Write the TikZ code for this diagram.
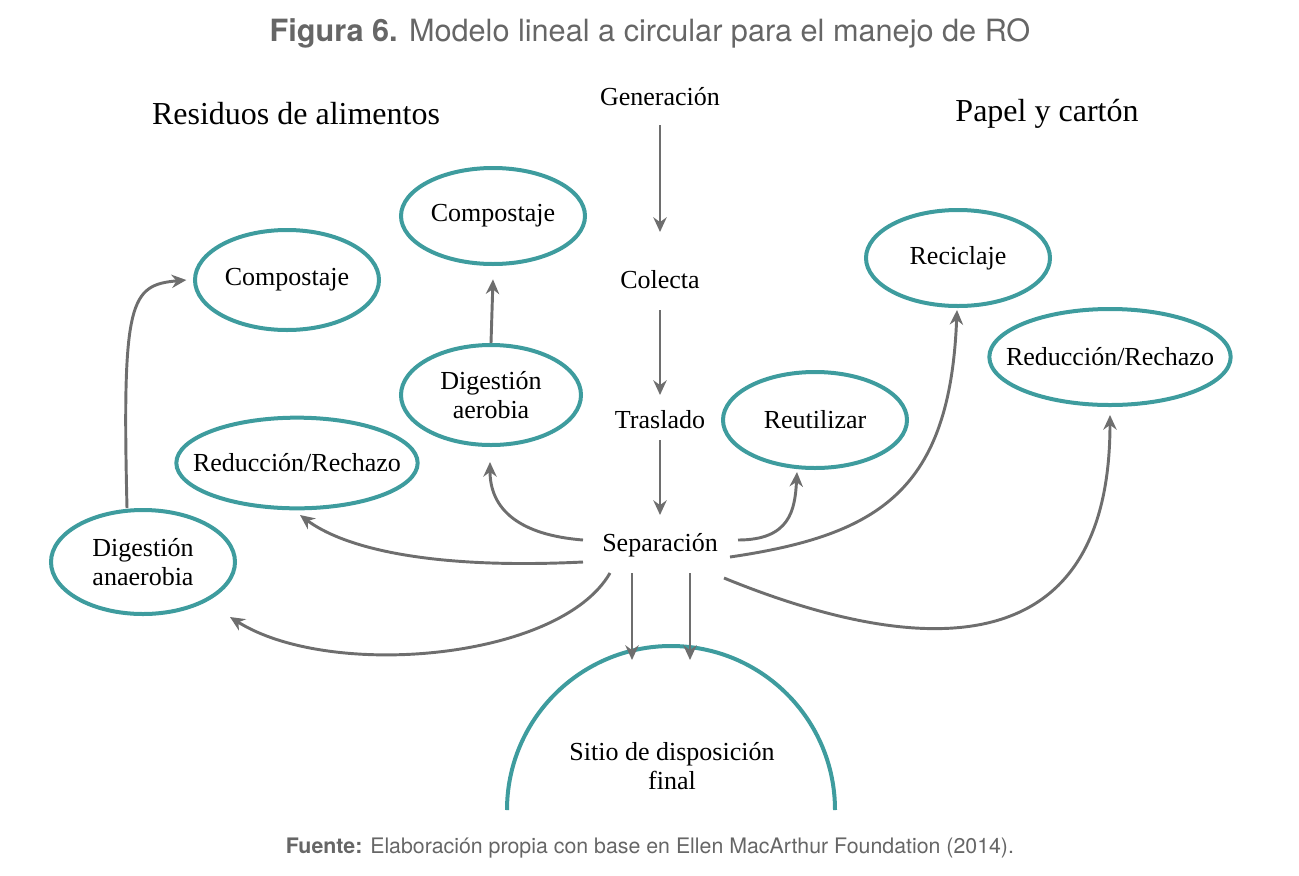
\documentclass[tikz,border=0pt]{standalone}
\usepackage{fontspec}
\setmainfont{Liberation Serif}
\newfontfamily\hsans{TeX Gyre Heros}
\usetikzlibrary{shapes.geometric,arrows.meta}
\definecolor{teal1}{HTML}{3E9C9E}
\definecolor{arr}{HTML}{6E6E6E}
\definecolor{ttl}{HTML}{666666}
\begin{document}
\begin{tikzpicture}[x=0.75pt,y=-0.75pt,
  el/.style={draw=teal1,line width=3pt,ellipse,minimum width=#1,align=center,font=\fontsize{19.5}{22}\selectfont,inner sep=0pt},
  el/.default=184pt,
  lab/.style={font=\fontsize{19.5}{22}\selectfont,inner sep=2pt},
  ar/.style={draw=arr,line width=2.2pt,-{Stealth[length=11pt,width=10pt]}}]
\useasboundingbox (0,0) rectangle (1299,875);
\node[font=\hsans\fontsize{23}{27}\selectfont,text=ttl] (title) at (650,33) {\textbf{Figura 6.} Modelo lineal a circular para el manejo de RO};
\node[font=\fontsize{24}{28}\selectfont] (hl) at (296,114) {Residuos de alimentos};
\node[font=\fontsize{24}{28}\selectfont] (hr) at (1047,114) {Papel y cartón};
\node[lab] (gen) at (660,97) {Generación};
\node[lab] (col) at (660,280) {Colecta};
\node[lab] (tra) at (660,420) {Traslado};
\node[lab] (sep) at (660,545) {Separación};
\node[el=138pt,minimum height=72pt] (c1) at (493,216) {Compostaje};
\node[el=138pt,minimum height=75pt] (c2) at (287,280) {Compostaje};
\node[el=135pt,minimum height=75pt] (da) at (491,395) {Digestión\\aerobia};
\node[el=181pt,minimum height=68pt,inner sep=-14pt] (rl) at (297,463) {Reducción/Rechazo};
\node[el=138pt,minimum height=78pt] (dn) at (143,562) {Digestión\\anaerobia};
\node[el=138pt,minimum height=72pt] (ru) at (815,420) {Reutilizar};
\node[el=138pt,minimum height=72pt] (rc) at (958,258) {Reciclaje};
\node[el=181pt,minimum height=72pt,inner sep=-14pt] (rr) at (1110,357) {Reducción/Rechazo};
\draw[teal1,line width=3pt] (507,810) arc[start angle=180,end angle=360,radius=164];
\node[lab,align=center] (sitio) at (672,766) {Sitio de disposición\\final};
\coordinate (s1) at (632,660); \coordinate (s2) at (690,660);
\coordinate (g0) at (660,125); \coordinate (g1) at (660,232);
\coordinate (k0) at (660,310); \coordinate (k1) at (660,395);
\coordinate (t0) at (660,440); \coordinate (t1) at (660,515);
\draw[ar] (g0) -- (g1);
\draw[ar] (k0) -- (k1);
\draw[ar] (t0) -- (t1);
\draw[ar] (632,573) -- (s1);
\draw[ar] (690,573) -- (s2);
\draw[ar] (da.north) -- ([yshift=-10pt]c1.south);
\draw[ar] (dn.north -| 127,0) .. controls (122,300) and (130,285) .. ([xshift=-5pt]c2.west);
\draw[ar] (583,540) .. controls (520,535) and (490,510) .. (490,462);
\draw[ar] (583,562) .. controls (420,570) and (340,545) .. (300,515);
\draw[ar] (610,573) .. controls (560,660) and (330,680) .. (230,617);
\draw[ar] (738,540) .. controls (790,540) and (795,510) .. (797,472);
\draw[ar] (730,557) .. controls (880,535) and (950,490) .. (957,310);
\draw[ar] (724,578) .. controls (900,650) and (1110,680) .. (1110,415);
\node[font=\hsans\fontsize{16}{19}\selectfont,text=ttl] (src) at (650,848) {\textbf{Fuente:} Elaboración propia con base en Ellen MacArthur Foundation (2014).};
\end{tikzpicture}
\end{document}
